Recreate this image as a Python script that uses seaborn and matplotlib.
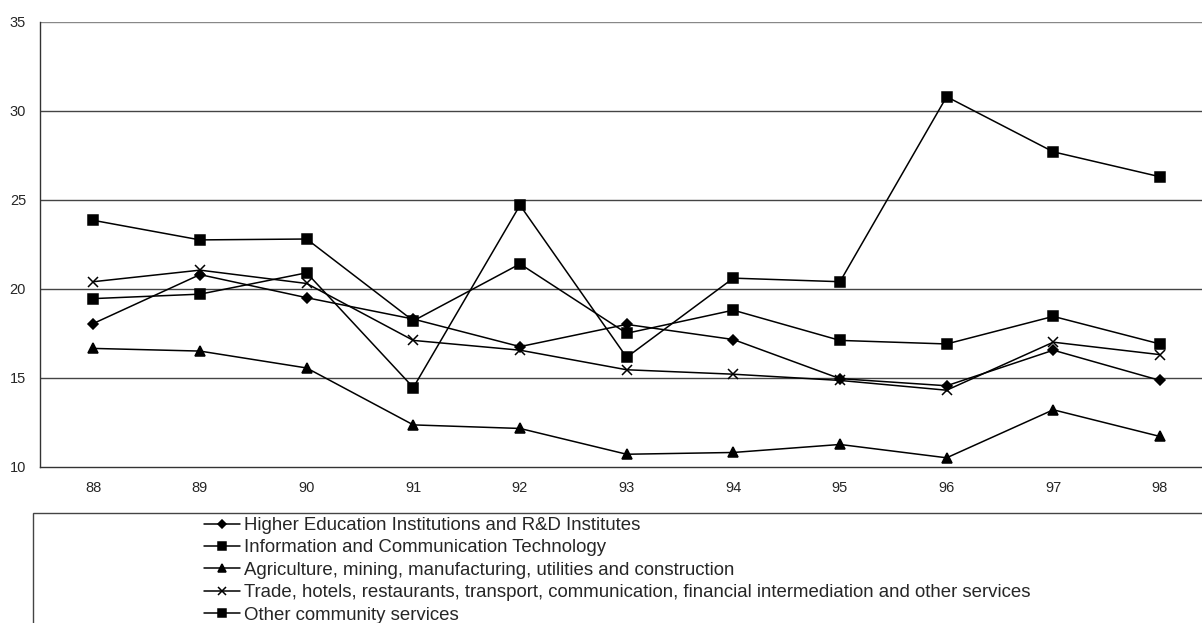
import pandas as pd
import matplotlib
matplotlib.use('Agg')
import matplotlib.pyplot as plt
import seaborn as sns
from matplotlib.patches import Rectangle

# data
years = ['88', '89', '90', '91', '92', '93', '94', '95', '96', '97', '98']
higher_edu = [18.05, 20.8, 19.5, 18.3, 16.75, 18.0, 17.15, 14.95, 14.55, 16.55, 14.85]
ict = [19.45, 19.7, 20.9, 14.45, 24.7, 16.15, 20.6, 20.4, 30.8, 27.7, 26.3]
agri = [16.65, 16.5, 15.55, 12.35, 12.15, 10.7, 10.8, 11.25, 10.5, 13.2, 11.7]
trade = [20.4, 21.05, 20.3, 17.1, 16.55, 15.45, 15.2, 14.85, 14.3, 17.0, 16.3]
other = [23.85, 22.75, 22.8, 18.2, 21.4, 17.5, 18.8, 17.1, 16.9, 18.45, 16.9]

labels = ['Higher Education Institutions and R&D Institutes',
          'Information and Communication Technology',
          'Agriculture, mining, manufacturing, utilities and construction',
          'Trade, hotels, restaurants, transport, communication, financial intermediation and other services',
          'Other community services']
series = [higher_edu, ict, agri, trade, other]
markers = ['D', 's', '^', 'x', 's']
msizes = [5, 7, 7, 7, 7]

sns.set_style('white')
plt.rcParams['font.family'] = ['Liberation Sans', 'DejaVu Sans']

fig = plt.figure(figsize=(12.02, 6.23), dpi=100)
W, H = 1202, 623
# right edge of plot lies past the image border in the reference
ax = fig.add_axes([40 / W, 1 - 466.7 / H, 1173.3 / W, (466.7 - 22) / H])

pos = list(range(len(years)))
for lab, vals, m, ms in zip(labels, series, markers, msizes):
    df = pd.DataFrame({'x': pos, 'y': vals})
    sns.lineplot(data=df, x='x', y='y', ax=ax, color='black', linewidth=1.1,
                 marker=m, markersize=ms, markeredgecolor='black',
                 markerfacecolor='black', markeredgewidth=1.1, label=lab)

ax.set_xlim(-0.5, 10.5)
ax.set_ylim(10, 35)
ax.set_yticks([10, 15, 20, 25, 30, 35])
ax.set_xticks(pos)
ax.set_xticklabels(years)
ax.set_xticks([p - 0.5 for p in pos] + [10.5], minor=True)
ax.tick_params(axis='x', which='major', length=0, pad=10, labelsize=10.5)
ax.tick_params(axis='x', which='minor', length=5, width=1, direction='out', color='#333333')
ax.tick_params(axis='y', length=5, width=1, direction='out', color='#333333', labelsize=10.5, pad=5)
ax.set_xlabel('')
ax.set_ylabel('')
for y in [15, 20, 25, 30, 35]:
    ax.axhline(y, color='#444444' if y < 35 else '#888888', linewidth=1, zorder=0)
for s in ['top', 'right']:
    ax.spines[s].set_visible(False)
for s in ['left', 'bottom']:
    ax.spines[s].set_color('#333333')
    ax.spines[s].set_linewidth(1)

handles, labs = ax.get_legend_handles_labels()
ax.get_legend().remove()
fig.legend(handles, labs, loc='upper left', bbox_to_anchor=(204 / W, 1 - 517 / H),
           frameon=False, fontsize=13.4, handlelength=1.95, handletextpad=0.2,
           labelspacing=0.29, borderaxespad=0, borderpad=0, markerscale=0.8)
fig.patches.append(Rectangle((33 / W, -0.05), 1.1, 0.05 + (623 - 512.7) / H,
                             transform=fig.transFigure, fill=False,
                             edgecolor='#444444', linewidth=1))

fig.savefig('out.png', dpi=100)
